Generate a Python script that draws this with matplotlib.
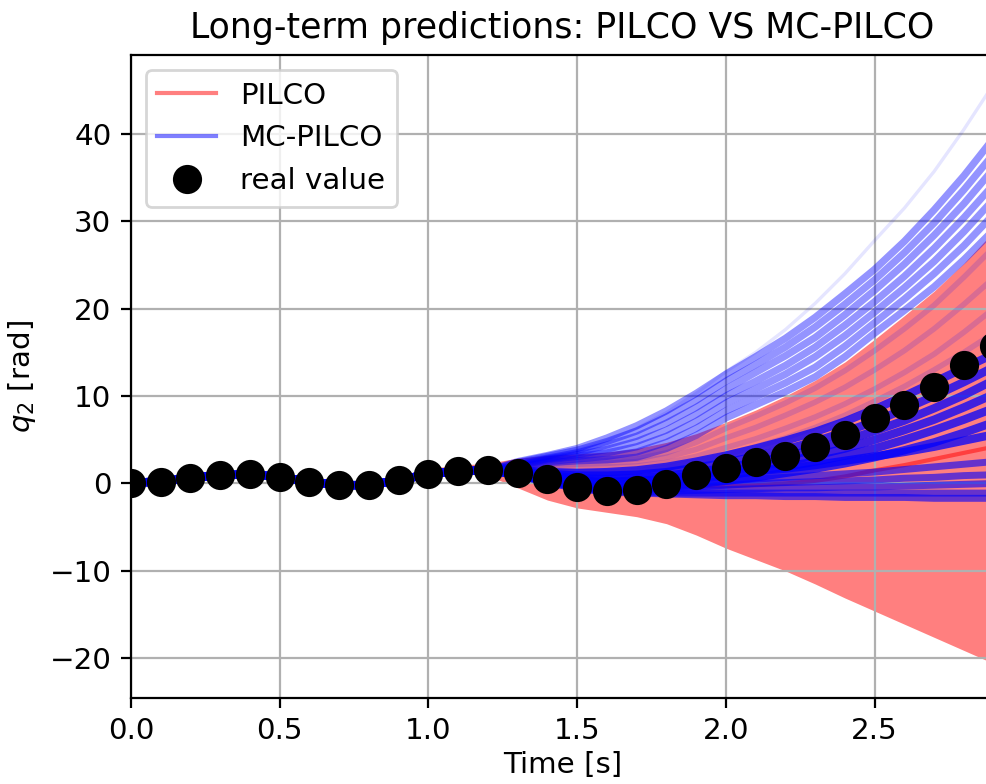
import numpy as np
import matplotlib
matplotlib.use("Agg")
import matplotlib.pyplot as plt
from matplotlib.lines import Line2D

plt.rcParams["font.size"] = 10.6
plt.rcParams["axes.titlesize"] = 12.5

# time grid [s]
time_s = np.round(np.arange(0, 30) * 0.1, 1)

# measured joint angle q2 [rad]
real_q2 = [0.1, 0.2, 0.65, 0.95, 1.03, 0.76, 0.19, -0.19, -0.19, 0.38,
           1.07, 1.41, 1.49, 1.22, 0.5, -0.42, -0.84, -0.8, -0.07, 0.95,
           1.79, 2.4, 3.09, 4.19, 5.6, 7.5, 9.03, 11.05, 13.5, 15.7]

# PILCO gaussian prediction: mean and confidence bounds
pilco_mean = [0.1, 0.2, 0.65, 0.95, 1.03, 0.76, 0.19, -0.19, -0.19, 0.38,
              1.07, 1.41, 1.49, 1.4, 1.1, 0.7, 0.3, 0.0, -0.2, -0.3,
              -0.3, -0.2, 0.0, 0.3, 0.8, 1.5, 2.1, 2.8, 3.5, 4.2]
pilco_upper = [0.4, 0.5, 0.95, 1.25, 1.33, 1.06, 0.49, 0.11, 0.11, 0.9,
               1.7, 2.1, 2.3, 2.9, 3.2, 3.4, 3.6, 4.0, 4.7, 5.7,
               7.0, 8.4, 10.0, 11.8, 13.9, 16.5, 19.2, 22.0, 25.2, 28.8]
pilco_lower = [-0.1, 0.0, 0.45, 0.75, 0.83, 0.56, -0.01, -0.39, -0.39, 0.18,
               0.87, 1.21, 0.9, -0.5, -1.9, -2.8, -3.3, -3.8, -4.6, -5.9,
               -7.4, -8.7, -10.0, -11.5, -13.1, -14.6, -16.1, -17.6, -19.1, -20.6]

# MC-PILCO particles: all share the measured start up to t = 1.2 s,
# tails below cover t = 1.3 ... 2.9 s
n_shared = 13
upper_tails = [
    [1.8, 2.4, 2.6, 2.7, 3.0, 4.0, 5.5, 7.5, 9.0, 10.5, 12.2, 14.5, 17.2, 19.8, 22.5, 25.6, 29.0],
    [1.9, 2.5, 2.8, 3.1, 3.6, 4.7, 6.3, 8.3, 9.9, 11.5, 13.3, 15.7, 18.4, 21.1, 24.0, 27.2, 30.8],
    [2.0, 2.7, 3.1, 3.5, 4.2, 5.4, 7.1, 9.2, 10.8, 12.5, 14.5, 16.9, 19.6, 22.4, 25.4, 28.8, 32.5],
    [2.1, 2.8, 3.3, 3.9, 4.8, 6.1, 7.9, 10.0, 11.7, 13.5, 15.6, 18.1, 20.8, 23.7, 26.9, 30.4, 34.2],
    [2.3, 2.9, 3.5, 4.4, 5.4, 6.9, 8.7, 10.8, 12.7, 14.6, 16.7, 19.3, 22.1, 25.1, 28.4, 32.0, 36.0],
    [2.4, 3.1, 3.8, 4.8, 6.0, 7.6, 9.5, 11.7, 13.6, 15.6, 17.9, 20.5, 23.3, 26.4, 29.8, 33.6, 37.7],
    [2.5, 3.2, 4.0, 5.2, 6.6, 8.3, 10.3, 12.5, 14.5, 16.6, 19.0, 21.7, 24.5, 27.7, 31.3, 35.2, 39.5],
]
outlier_tail = [2.3, 3.0, 3.8, 4.9, 6.3, 8.1, 10.3, 12.8, 15.0, 17.6, 20.6, 24.0, 27.8, 31.5, 35.7, 40.5, 45.7]
middle_tails = [
    [1.7, 2.2, 2.5, 2.6, 2.8, 3.5, 4.7, 6.3, 7.7, 9.2, 10.9, 12.9, 15.2, 17.7, 20.4, 23.6, 27.0],
    [1.6, 2.0, 2.2, 2.3, 2.5, 3.0, 3.9, 5.2, 6.4, 7.8, 9.3, 11.0, 13.0, 15.2, 17.7, 20.5, 23.5],
    [1.5, 1.8, 1.9, 1.9, 2.0, 2.4, 3.1, 4.1, 5.1, 6.3, 7.6, 9.1, 10.8, 12.7, 14.8, 17.3, 20.0],
    [1.4, 1.5, 1.4, 1.3, 1.4, 1.8, 2.5, 3.3, 4.2, 5.2, 6.4, 7.8, 9.4, 11.1, 13.0, 15.0, 17.2],
]
core_tails = [
    [1.5, 1.3, 1.2, 1.3, 1.5, 1.9, 2.5, 3.2, 4.0, 4.9, 5.9, 7.1, 8.5, 10.0, 11.6, 13.2, 14.8],
    [1.4, 1.1, 0.9, 0.9, 1.0, 1.3, 1.8, 2.4, 3.1, 3.9, 4.8, 5.9, 7.1, 8.5, 10.0, 11.6, 13.3],
    [1.3, 0.9, 0.6, 0.5, 0.6, 0.9, 1.3, 1.8, 2.4, 3.1, 3.9, 4.9, 6.0, 7.2, 8.6, 10.1, 11.8],
    [1.2, 0.7, 0.3, 0.2, 0.3, 0.5, 0.9, 1.4, 1.9, 2.5, 3.2, 4.0, 5.0, 6.1, 7.3, 8.7, 10.2],
    [1.1, 0.5, 0.0, -0.2, -0.1, 0.2, 0.5, 0.9, 1.4, 1.9, 2.5, 3.2, 4.0, 5.0, 6.1, 7.3, 8.6],
    [1.0, 0.3, -0.3, -0.6, -0.6, -0.4, -0.1, 0.3, 0.7, 1.2, 1.7, 2.3, 3.0, 3.8, 4.7, 5.8, 7.0],
    [1.1, 0.6, 0.2, 0.1, 0.2, 0.4, 0.7, 1.0, 1.4, 1.7, 2.1, 2.6, 3.1, 3.6, 4.2, 4.9, 5.6],
]
lower_tails = [
    [1.1, 0.4, -0.2, -0.5, -0.5, -0.3, 0.0, 0.3, 0.5, 0.7, 0.9, 1.1, 1.3, 1.6, 1.9, 2.2, 2.5],
    [1.0, 0.3, -0.3, -0.6, -0.7, -0.6, -0.4, -0.2, 0.0, 0.1, 0.2, 0.3, 0.4, 0.6, 0.7, 0.9, 1.0],
    [1.0, 0.2, -0.4, -0.8, -0.9, -0.9, -0.8, -0.7, -0.6, -0.5, -0.5, -0.4, -0.4, -0.3, -0.2, -0.1, 0.0],
    [0.9, 0.1, -0.5, -0.9, -1.0, -1.1, -1.1, -1.1, -1.1, -1.1, -1.1, -1.1, -1.1, -1.1, -1.1, -1.1, -1.1],
    [0.9, 0.1, -0.6, -1.0, -1.1, -1.2, -1.3, -1.4, -1.4, -1.5, -1.5, -1.6, -1.6, -1.6, -1.7, -1.7, -1.7],
]

fig = plt.figure(figsize=(4.935, 3.92), dpi=200)
ax = fig.add_axes([0.1327, 0.1101, 0.8741, 0.8197])

# PILCO: confidence band + mean
ax.fill_between(time_s, pilco_lower, pilco_upper, color="red", alpha=0.5, lw=0)
ax.plot(time_s, pilco_mean, color="red", alpha=0.5, lw=1.5)

# MC-PILCO particles
def particle(tail):
    return np.concatenate([real_q2[:n_shared], tail])

for tail in upper_tails:
    ax.plot(time_s, particle(tail), color="blue", alpha=0.42, lw=2.6)
ax.plot(time_s, particle(outlier_tail), color="blue", alpha=0.1, lw=1.2)
for tail in middle_tails:
    ax.plot(time_s, particle(tail), color="blue", alpha=0.15, lw=2.0)
for tail in core_tails:
    ax.plot(time_s, particle(tail), color="blue", alpha=0.75, lw=3.0)
for tail in lower_tails:
    ax.plot(time_s, particle(tail), color="blue", alpha=0.6, lw=2.5)

ax.plot(time_s, real_q2, "o", color="black", ms=9.5, zorder=5)

ax.set_xlim(0, 2.9)
ax.set_ylim(-24.5, 49.0)
ax.set_yticks([-20, -10, 0, 10, 20, 30, 40])
ax.grid(True)
ax.set_title("Long-term predictions: PILCO VS MC-PILCO", pad=6)
ax.set_xlabel("Time [s]", labelpad=2)
ax.set_ylabel("$q_2$ [rad]")

handles = [Line2D([], [], color="red", alpha=0.5, lw=1.5),
           Line2D([], [], color="blue", alpha=0.5, lw=1.5),
           Line2D([], [], color="black", marker="o", ls="", ms=9.5)]
ax.legend(handles, ["PILCO", "MC-PILCO", "real value"], loc="upper left")

fig.savefig("out.png", dpi=200)
